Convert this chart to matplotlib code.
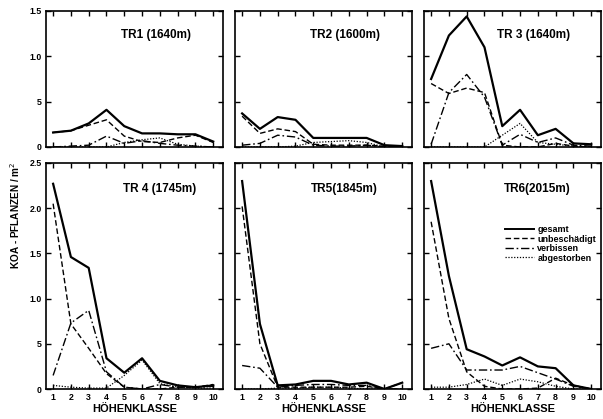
import matplotlib
matplotlib.use("Agg")
import matplotlib.pyplot as plt
from matplotlib.lines import Line2D

plt.rcParams['font.family'] = ['Liberation Sans', 'DejaVu Sans']

klassen = list(range(1, 11))

titles = ["TR1 (1640m)", "TR2 (1600m)", "TR 3 (1640m)",
          "TR 4 (1745m)", "TR5(1845m)", "TR6(2015m)"]

gesamt = [
    [0.16, 0.18, 0.26, 0.41, 0.23, 0.15, 0.15, 0.14, 0.14, 0.06],
    [0.37, 0.20, 0.33, 0.30, 0.10, 0.10, 0.10, 0.10, 0.02, 0.01],
    [0.75, 1.23, 1.44, 1.10, 0.23, 0.41, 0.13, 0.20, 0.04, 0.03],
    [2.27, 1.46, 1.34, 0.34, 0.18, 0.34, 0.09, 0.04, 0.02, 0.04],
    [2.30, 0.72, 0.04, 0.05, 0.09, 0.09, 0.05, 0.07, 0.00, 0.07],
    [2.30, 1.25, 0.44, 0.36, 0.26, 0.35, 0.25, 0.23, 0.04, 0.00],
]
unbeschaedigt = [
    [0.16, 0.18, 0.24, 0.30, 0.12, 0.06, 0.05, 0.10, 0.13, 0.05],
    [0.34, 0.15, 0.20, 0.17, 0.03, 0.02, 0.02, 0.02, 0.01, 0.00],
    [0.70, 0.59, 0.65, 0.60, 0.02, 0.00, 0.00, 0.04, 0.01, 0.00],
    [2.05, 0.72, 0.45, 0.17, 0.02, 0.00, 0.00, 0.02, 0.02, 0.05],
    [2.02, 0.50, 0.02, 0.02, 0.02, 0.02, 0.02, 0.03, 0.00, 0.07],
    [1.85, 0.78, 0.19, 0.03, 0.00, 0.00, 0.01, 0.12, 0.04, 0.00],
]
verbissen = [
    [0.00, 0.01, 0.02, 0.12, 0.04, 0.07, 0.04, 0.02, 0.01, 0.00],
    [0.02, 0.04, 0.13, 0.11, 0.02, 0.01, 0.01, 0.02, 0.00, 0.00],
    [0.03, 0.60, 0.80, 0.55, 0.02, 0.14, 0.05, 0.10, 0.02, 0.01],
    [0.15, 0.73, 0.87, 0.19, 0.02, 0.00, 0.05, 0.02, 0.02, 0.03],
    [0.26, 0.23, 0.02, 0.04, 0.05, 0.05, 0.04, 0.04, 0.00, 0.00],
    [0.45, 0.50, 0.21, 0.21, 0.21, 0.25, 0.18, 0.11, 0.03, 0.00],
]
abgestorben = [
    [0.00, 0.00, 0.00, 0.00, 0.05, 0.08, 0.10, 0.03, 0.01, 0.00],
    [0.00, 0.00, 0.00, 0.01, 0.05, 0.06, 0.07, 0.05, 0.00, 0.00],
    [0.00, 0.00, 0.00, 0.00, 0.13, 0.26, 0.05, 0.03, 0.01, 0.00],
    [0.04, 0.02, 0.01, 0.01, 0.15, 0.32, 0.06, 0.02, 0.01, 0.01],
    [0.00, 0.00, 0.01, 0.01, 0.02, 0.02, 0.01, 0.00, 0.00, 0.00],
    [0.02, 0.02, 0.05, 0.11, 0.04, 0.11, 0.08, 0.03, 0.00, 0.00],
]

top_yticks = [0, 0.5, 1.0, 1.5]
top_yticklabels = ["0", "5", "1.0", "1.5"]
bot_yticks = [0, 0.5, 1.0, 1.5, 2.0, 2.5]
bot_yticklabels = ["0", "5", "1.0", "1.5", "2.0", "2.5"]
xticklabels = [str(k) for k in klassen]

legend_labels = ["gesamt", "unbeschädigt", "verbissen", "abgestorben"]
xlabel = "HÖHENKLASSE"
ylabel = "KOA - PFLANZEN / m$^2$"

W, H = 603, 419
fig = plt.figure(figsize=(W / 100, H / 100), dpi=100)
fig.patch.set_facecolor("white")

lefts = [46, 235, 424]
pw = 177
rows = [(11, 147), (163, 389)]

styles = [
    dict(color="black", lw=1.6, ls="-"),
    dict(color="black", lw=1.0, ls=(0, (4, 2))),
    dict(color="black", lw=1.0, ls=(0, (6, 2, 1.2, 2))),
    dict(color="black", lw=0.9, ls=(0, (1, 1.3))),
]

title_pos = [(0.62, 0.82), (0.62, 0.82), (0.62, 0.82),
             (0.64, 0.885), (0.62, 0.885), (0.64, 0.885)]

for i in range(6):
    r, c = divmod(i, 3)
    t, b = rows[r]
    ax = fig.add_axes([lefts[c] / W, (H - b) / H, pw / W, (b - t) / H])
    for data, st in zip([gesamt, unbeschaedigt, verbissen, abgestorben], styles):
        ax.plot(klassen, data[i], **st)
    ax.set_xlim(0.6, 10.55)
    ax.set_xticks(klassen)
    if r == 0:
        ax.set_ylim(0, 1.5)
        ax.set_yticks(top_yticks)
        ax.set_xticklabels([])
        if c == 0:
            ax.set_yticklabels(top_yticklabels)
        else:
            ax.set_yticklabels([])
    else:
        ax.set_ylim(0, 2.5)
        ax.set_yticks(bot_yticks)
        ax.set_xticklabels(xticklabels, fontsize=6.3, fontweight="bold")
        if c == 0:
            ax.set_yticklabels(bot_yticklabels)
        else:
            ax.set_yticklabels([])
        ax.set_xlabel(xlabel, fontsize=8, fontweight="bold", labelpad=1.5)
    for lab in ax.get_yticklabels():
        lab.set_fontsize(6.3)
        lab.set_fontweight("bold")
    ax.tick_params(direction="in", length=3.5, width=1.0, top=True, right=True,
                   pad=3)
    for sp in ax.spines.values():
        sp.set_linewidth(1.2)
    ax.text(title_pos[i][0], title_pos[i][1], titles[i], transform=ax.transAxes,
            ha="center", va="center", fontsize=8.5, fontweight="bold")
    if i == 5:
        handles = [Line2D([], [], **st) for st in styles]
        handles[0].set_linewidth(1.4)
        ax.legend(handles, legend_labels, loc="upper left",
                  bbox_to_anchor=(0.46, 0.725), frameon=False,
                  handlelength=3.2, handletextpad=0.35, labelspacing=0.05,
                  borderaxespad=0, borderpad=0,
                  prop=dict(weight="bold", size=6.5))

fig.text(15 / W, (H - 215) / H, ylabel, rotation=90, ha="center", va="center",
         fontsize=7.2, fontweight="bold")

fig.savefig("out.png", dpi=100, facecolor="white")
